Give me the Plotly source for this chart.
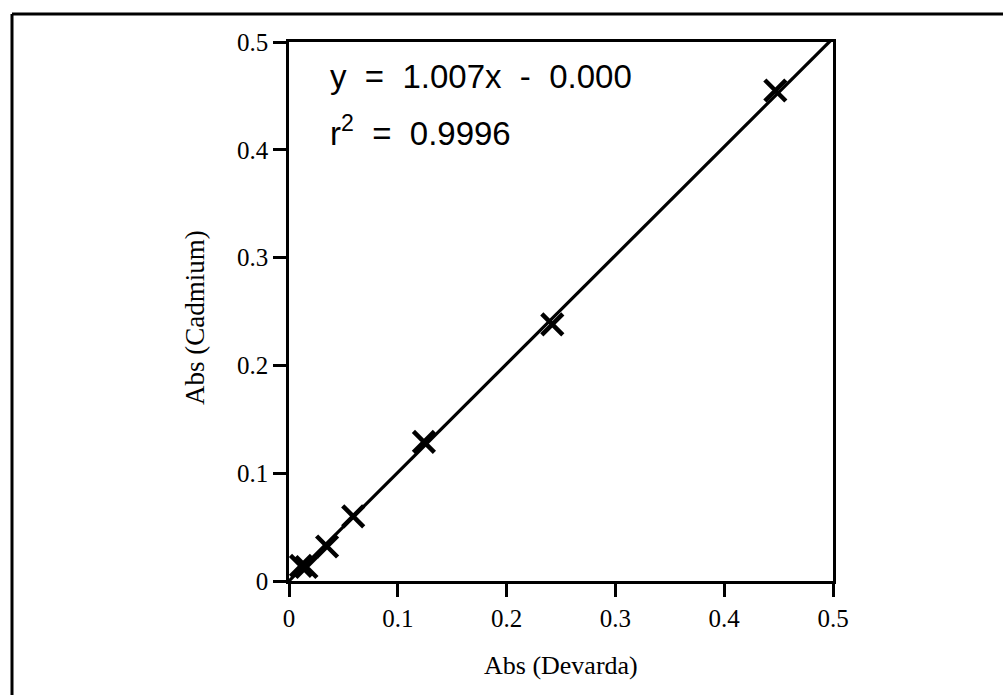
import plotly.graph_objects as go

# Data
devarda = [0.011, 0.016, 0.035, 0.059, 0.124, 0.242, 0.447]
cadmium = [0.014, 0.013, 0.032, 0.060, 0.129, 0.238, 0.455]
fit_x = [0.0, 0.5]
slope = 1.007
intercept = 0.000
fit_y = [slope * v + intercept for v in fit_x]
tick_vals = [0, 0.1, 0.2, 0.3, 0.4, 0.5]
tick_text = ["0", "0.1", "0.2", "0.3", "0.4", "0.5"]

# page body margin is removed in post_script, so no offset
OFF = 0
L, T, PW, PH = 289 - OFF, 42 - OFF, 544, 539
W, H = 1003, 695


def px(xp):
    return (xp - OFF - L) / PW


def py(yp):
    return (T + PH - (yp - OFF)) / PH


fig = go.Figure()
fig.add_trace(go.Scatter(x=fit_x, y=fit_y, mode="lines",
                         line=dict(color="black", width=3.2), cliponaxis=True,
                         showlegend=False, hoverinfo="skip"))
fig.add_trace(go.Scatter(x=devarda, y=cadmium, mode="markers",
                         marker=dict(symbol="x-thin", size=21,
                                     line=dict(color="black", width=4.5), color="black"),
                         cliponaxis=False, showlegend=False))

axis_common = dict(range=[0, 0.5], tickvals=tick_vals, ticktext=tick_text,
                   ticks="outside", ticklen=13, tickwidth=3, tickcolor="black",
                   showline=True, linecolor="black", linewidth=2.5, mirror=True,
                   showgrid=False, zeroline=False,
                   tickfont=dict(family="Liberation Serif", size=25, color="black"))

frame_line = dict(color="black", width=3)

fig.update_layout(
    width=W, height=H,
    margin=dict(l=L, r=W - L - PW, t=T, b=H - T - PH),
    paper_bgcolor="white", plot_bgcolor="white",
    xaxis=axis_common,
    yaxis=axis_common,
    showlegend=False,
    shapes=[
        dict(type="line", xref="paper", yref="paper",
             x0=px(12), x1=px(12), y0=py(760), y1=py(14), line=frame_line),
        dict(type="line", xref="paper", yref="paper",
             x0=px(12), x1=px(1150), y0=py(14), y1=py(14), line=frame_line),
    ],
    annotations=[
        dict(text="Abs (Devarda)", xref="paper", yref="paper",
             x=px(561), y=py(665), showarrow=False,
             font=dict(family="Liberation Serif", size=26, color="black"),
             xanchor="center", yanchor="middle"),
        dict(text="Abs (Cadmium)", xref="paper", yref="paper",
             x=px(195), y=py(318), showarrow=False, textangle=-90,
             font=dict(family="Liberation Serif", size=27, color="black"),
             xanchor="center", yanchor="middle"),
        dict(text="y  =  1.007x  -  0.000", xref="paper", yref="paper",
             x=px(328), y=py(76), showarrow=False,
             font=dict(family="Liberation Sans", size=33, color="black"),
             xanchor="left", yanchor="middle"),
        dict(text="r<sup>2</sup>  =  0.9996", xref="paper", yref="paper",
             x=px(328), y=py(131), showarrow=False,
             font=dict(family="Liberation Sans", size=33, color="black"),
             xanchor="left", yanchor="middle"),
    ],
)

fig.write_html(
    "out.html",
    config={"displayModeBar": False},
    post_script="document.body.style.margin='0px';document.body.style.overflow='hidden';",
)
